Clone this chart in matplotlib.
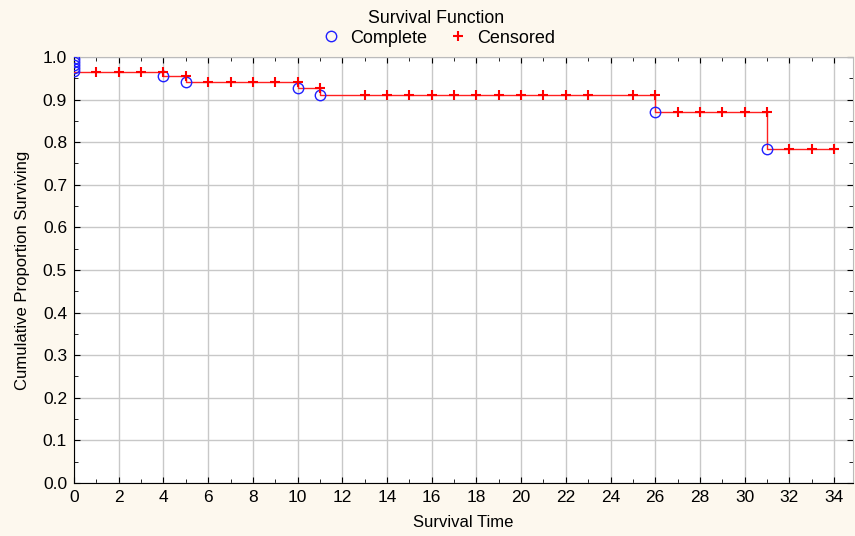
import matplotlib
matplotlib.use("Agg")
import matplotlib.pyplot as plt
from matplotlib.ticker import MultipleLocator, FormatStrFormatter

plt.rcParams['font.family'] = ['Liberation Sans', 'DejaVu Sans']

# Kaplan-Meier step data
step_times = [0, 4, 5, 10, 11, 26, 31]
step_surv = [0.965, 0.955, 0.941, 0.927, 0.911, 0.870, 0.784]
end_time = 34

# Complete (event) observations
complete_t = [0, 0, 0, 0, 0, 4, 5, 10, 11, 26, 31]
complete_s = [0.995, 0.988, 0.981, 0.974, 0.967, 0.955, 0.941, 0.927, 0.911, 0.870, 0.784]

# Censored observations
censored_t = [1, 2, 3, 4, 5, 6, 7, 8, 9, 10, 11,
              13, 14, 15, 16, 17, 18, 19, 20, 21, 22, 23, 25, 26,
              27, 28, 29, 30, 31, 32, 33, 34]
censored_s = [0.965, 0.965, 0.965, 0.965, 0.955, 0.941, 0.941, 0.941, 0.941, 0.941, 0.927,
              0.911, 0.911, 0.911, 0.911, 0.911, 0.911, 0.911, 0.911, 0.911, 0.911, 0.911, 0.911, 0.911,
              0.870, 0.870, 0.870, 0.870, 0.870, 0.784, 0.784, 0.784]

bg = '#fdf8ee'
fig = plt.figure(figsize=(8.55, 5.36), dpi=100, facecolor=bg)
ax = fig.add_axes([0.0866, 0.0989, 0.9111, 0.7948])
ax.set_facecolor('white')

# step line
xs = step_times + [end_time]
ys = step_surv + [step_surv[-1]]
ax.step(xs, ys, where='post', color='#ff2020', lw=1.0, zorder=3)

ax.plot(complete_t, complete_s, linestyle='none', marker='o', markersize=7.5,
        markerfacecolor='none', markeredgecolor='#2020ff', markeredgewidth=1.0,
        label='Complete', zorder=4)
ax.plot(censored_t, censored_s, linestyle='none', marker='+', markersize=7.5,
        color='#ff0000', markeredgewidth=1.5, label='Censored', zorder=5)

ax.set_xlim(0, 34.85)
ax.set_ylim(0, 1.0)
ax.xaxis.set_major_locator(MultipleLocator(2))
ax.xaxis.set_minor_locator(MultipleLocator(1))
ax.yaxis.set_major_locator(MultipleLocator(0.1))
ax.yaxis.set_minor_locator(MultipleLocator(0.05))
ax.yaxis.set_major_formatter(FormatStrFormatter('%.1f'))

ax.grid(True, which='major', color='#c8c8c8', lw=1.0, zorder=0)
ax.set_axisbelow(True)
ax.tick_params(which='both', direction='in', top=True, right=True, labelsize=12.5, colors='black')
ax.tick_params(which='major', length=4, pad=5)
ax.tick_params(which='minor', length=3)
for s in ax.spines.values():
    s.set_color('black')
    s.set_linewidth(0.8)
ax.spines['top'].set_color('#bbbbbb')
ax.spines['right'].set_color('#bbbbbb')

ax.set_xlabel('Survival Time', fontsize=12, labelpad=7)
ax.set_ylabel('Cumulative Proportion Surviving', fontsize=12, labelpad=9)

leg = fig.legend(loc='upper center', bbox_to_anchor=(0.51, 1.0), ncol=2, frameon=False,
                 title='Survival Function', fontsize=13, title_fontsize=12.75,
                 handletextpad=0.25, handlelength=1.6, columnspacing=0.9, borderaxespad=0.15,
                 labelspacing=0.15)

fig.savefig('out.png', dpi=100, facecolor=bg)
